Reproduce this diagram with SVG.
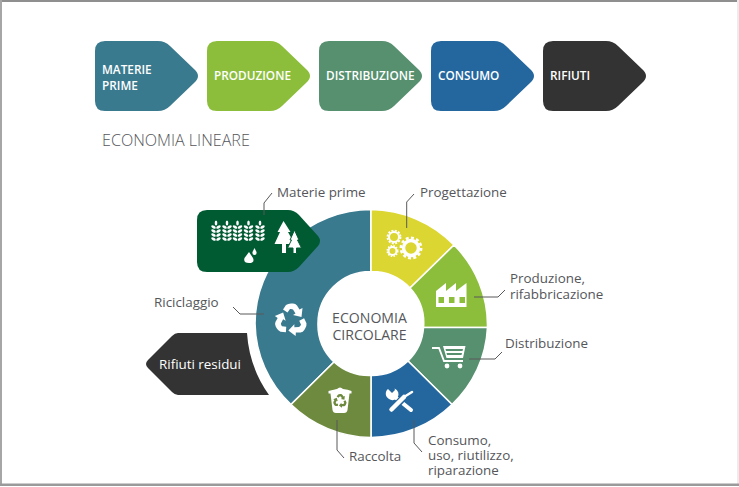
<svg xmlns="http://www.w3.org/2000/svg" width="739" height="487" viewBox="0 0 739 487">
<defs>
<path id="arrow" d="M10 0H63Q70 0 75 5L99 28Q107 35 99 42L75 65Q70 70 63 70H10Q0 70 0 60V10Q0 0 10 0Z"/>
<g id="wheat" fill="#fff">
<ellipse cx="0" cy="-17" rx="1.300" ry="2.600"/>
<g id="grains">
<ellipse cx="-2.500" cy="-13" rx="2.500" ry="1.300" transform="rotate(30 -2.500 -13)"/><ellipse cx="2.500" cy="-13" rx="2.500" ry="1.300" transform="rotate(-30 2.500 -13)"/>
<ellipse cx="-2.500" cy="-9" rx="2.500" ry="1.300" transform="rotate(30 -2.500 -9)"/><ellipse cx="2.500" cy="-9" rx="2.500" ry="1.300" transform="rotate(-30 2.500 -9)"/>
<ellipse cx="-2.500" cy="-5" rx="2.500" ry="1.300" transform="rotate(30 -2.500 -5)"/><ellipse cx="2.500" cy="-5" rx="2.500" ry="1.300" transform="rotate(-30 2.500 -5)"/>
<ellipse cx="-2.500" cy="-1" rx="2.500" ry="1.300" transform="rotate(30 -2.500 -1)"/><ellipse cx="2.500" cy="-1" rx="2.500" ry="1.300" transform="rotate(-30 2.500 -1)"/>
</g>
</g>
<path id="ra" d="M-8 -10.500L-5 -15Q-3 -16.500 0 -16.500H2Q4.500 -16.500 6 -14.500L8.500 -10.500L11.500 -12L10.500 -3L2 -5L4.500 -6.500L2 -10.500Q1 -11 0 -11H-1L-3.500 -7.500Z"/>
<g id="recycle"><use href="#ra"/><use href="#ra" transform="rotate(120)"/><use href="#ra" transform="rotate(240)"/></g>
</defs>
<style>
text{font-family:"Open Sans","Noto Sans",sans-serif;fill:#55565a;font-size:13.4px}
.b{font-weight:600;fill:#fff;font-size:11.8px}
.c{fill:none;stroke:#58595b;stroke-width:1}
.w{fill:#fff}
.seg{stroke:#fff;stroke-width:1.600}
</style>
<rect x="0" y="0" width="739" height="487" fill="#fff"/>
<rect x="0" y="0" width="739" height="2" fill="#8f8f8f"/>
<rect x="0" y="0" width="2" height="486" fill="#a6a6a6"/>
<rect x="737" y="0" width="2" height="486" fill="#ececec"/>
<rect x="0" y="483.500" width="739" height="2.500" fill="#9a9a9a"/>

<g id="n-materie"><use href="#arrow" x="95" y="41" fill="#3a7a8f"/><text class="b" x="102" y="74">MATERIE</text><text class="b" x="102" y="90">PRIME</text></g>
<g id="n-produzione"><use href="#arrow" x="207" y="41" fill="#8cbe3c"/><text class="b" x="214" y="80">PRODUZIONE</text></g>
<g id="n-distribuzione"><use href="#arrow" x="319" y="41" fill="#56906f"/><text class="b" x="326" y="80">DISTRIBUZIONE</text></g>
<g id="n-consumo"><use href="#arrow" x="431" y="41" fill="#24679f"/><text class="b" x="438" y="80">CONSUMO</text></g>
<g id="n-rifiuti"><use href="#arrow" x="543" y="41" fill="#333"/><text class="b" x="550" y="80">RIFIUTI</text></g>
<text id="t-lineare" x="102" y="146" style="font-size:16.100px;font-weight:300">ECONOMIA LINEARE</text>

<g id="n-riciclaggio">
<path class="seg" fill="#3a7a8f" d="M371 209.500A116 114 0 0 0 255 323.500A116 114 0 0 0 291 404.500L334 362A52.500 52 0 0 1 318 323.500A52.500 52 0 0 1 371 271.500Z"/>
<use href="#recycle" x="291" y="320" fill="#fff"/>
<text x="154" y="307">Riciclaggio</text>
</g>
<g id="n-progettazione">
<path class="seg" fill="#dbd632" d="M371 209.500A116 114 0 0 1 454 245L410 288A52.500 52 0 0 0 371 271.500Z"/>
<circle cx="394" cy="237" r="5" fill="none" stroke="#fff" stroke-width="2"/>
<circle cx="394" cy="237" r="6.500" fill="none" stroke="#fff" stroke-width="1.800" stroke-dasharray="2 1.400"/>
<circle cx="392.500" cy="251" r="4" fill="none" stroke="#fff" stroke-width="2"/>
<circle cx="392.500" cy="251" r="5.300" fill="none" stroke="#fff" stroke-width="1.500" stroke-dasharray="1.500 1.300"/>
<circle cx="411" cy="248" r="7.500" fill="none" stroke="#fff" stroke-width="3.500"/>
<circle cx="411" cy="248" r="10.200" fill="none" stroke="#fff" stroke-width="2.500" stroke-dasharray="3 2.300"/>
<text x="420" y="197">Progettazione</text>
</g>
<g id="n-produzione-c">
<path class="seg" fill="#8cbe3c" d="M454 245A116 114 0 0 1 487.500 327.500H423.500A52.500 52 0 0 0 410 288Z"/>
<path class="w" fill-rule="evenodd" d="M436 307V291L446 283V291L456 283V291L466.500 283V307ZM438.500 297V303H444V297ZM449 297V303H454.500V297ZM459.500 297V303H465V297Z"/>
<text x="510" y="283">Produzione,</text><text x="510" y="299">rifabbricazione</text>
</g>
<g id="n-distribuzione-c">
<path class="seg" fill="#56906f" d="M487.500 327.500A116 114 0 0 1 452 404.500L408 361A52.500 52 0 0 0 423.500 327.500Z"/>
<path d="M432 348H439L444 361H463" fill="none" stroke="#fff" stroke-width="1.800"/>
<path class="w" fill-rule="evenodd" d="M443 346H465.500L463 358H446.500ZM445.500 349L446 351H462.500L463 349ZM446.500 353L447 355H461.500L462 353Z"/>
<circle class="w" cx="447" cy="366" r="2.400"/><circle class="w" cx="460" cy="366" r="2.400"/>
<text x="505" y="348">Distribuzione</text>
</g>
<g id="n-consumo-c">
<path class="seg" fill="#24679f" d="M452 404.500A116 114 0 0 1 371 437.500V375.500A52.500 52 0 0 0 408 361Z"/>
<path d="M395 397L411 410" stroke="#fff" stroke-width="4" stroke-linecap="round" fill="none"/>
<path d="M388 389L392 393L395 390L394.500 388.500A6 6 0 0 1 397.500 397.500A6 6 0 0 1 389 399A6 6 0 0 1 388 389Z" fill="#fff"/>
<path d="M391 411L404 397" stroke="#24679f" stroke-width="7" fill="none"/>
<path d="M391.500 409.500L404 397" stroke="#fff" stroke-width="4.500" stroke-linecap="round" fill="none"/>
<path d="M404 397L412 392" stroke="#fff" stroke-width="2.500" stroke-linecap="round" fill="none"/>
<text x="428" y="445">Consumo,</text><text x="428" y="460">uso, riutilizzo,</text><text x="428" y="474.500">riparazione</text>
</g>
<g id="n-raccolta">
<path class="seg" fill="#6d8a3e" d="M371 437.500A116 114 0 0 1 291 404.500L334 362A52.500 52 0 0 0 371 375.500Z"/>
<path class="w" d="M328.500 391Q335 389.500 337 389Q340 386 343 389Q348 389.500 351.500 391V393.500H349.500L347.500 410Q347 413 344 413H336Q333 413 332.500 410L330.500 393.500H328.500Z"/>
<use href="#recycle" transform="translate(340 401) scale(.42)" fill="#6d8a3e"/>
<text x="349" y="461">Raccolta</text>
</g>
<g id="n-materie-c">
<path fill="#005a32" d="M207 210H288Q294 210 299 215L318 236Q322 241 318 246L299 267Q294 272 288 272H207Q197 272 197 262V220Q197 210 207 210Z"/>
<use href="#wheat" x="216" y="240"/><use href="#wheat" x="227" y="240"/><use href="#wheat" x="237.500" y="240"/><use href="#wheat" x="248.500" y="240"/><use href="#wheat" x="260" y="240"/>
<path class="w" d="M283.500 221L290.500 232H288L294.500 244H286V253H282V244H274.500L280 232H277.500Z"/>
<path class="w" stroke="#005a32" stroke-width="1" d="M294.500 230L299 240H297.500L301.500 248H296.500V253.500H293V248H287.500L291.500 240H290Z"/>
<path class="w" d="M249 252L253 258Q255 263 249 263Q243 263 244.500 258Z"/>
<path class="w" d="M254.500 248L256.500 252Q257 255 254.500 255Q252 255 252.500 252Z"/>
<text x="277" y="197">Materie prime</text>
</g>
<g id="n-rifiuti-residui">
<path fill="#333" d="M247 333H178Q175 333 172 336L148 360Q144 364 148 368L172 392Q175 395 178 395H269A124 122 0 0 1 247 333Z"/>
<text x="159" y="369" style="fill:#fff">Rifiuti residui</text>
</g>
<g id="n-centro">
<text x="369.500" y="323" text-anchor="middle" style="font-size:14.100px">ECONOMIA</text>
<text x="369.500" y="340" text-anchor="middle" style="font-size:14.100px">CIRCOLARE</text>
</g>
<g id="connectors">
<path class="c" d="M264 215V203L272 193"/>
<path class="c" d="M406.700 228V202L414 194"/>
<path class="c" d="M474 297H498L505 290"/>
<path class="c" d="M469 359H495L502 352"/>
<path class="c" d="M414 420V443L422 452"/>
<path class="c" d="M337 420V450L344 458"/>
<path class="c" d="M233 307L240 314H264"/>
</g>
</svg>
